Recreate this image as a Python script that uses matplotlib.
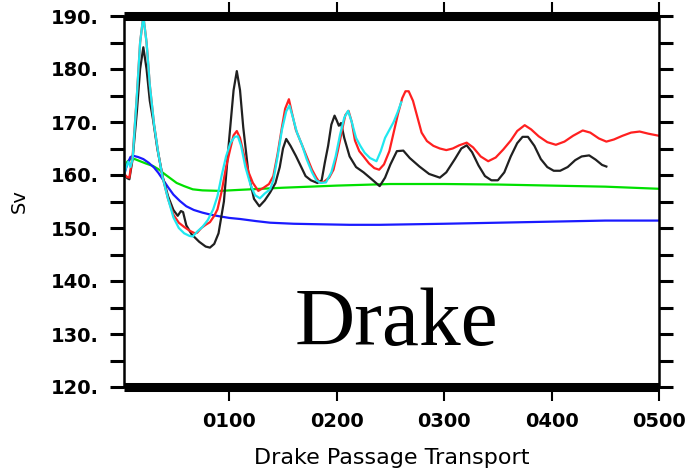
import matplotlib
matplotlib.use('Agg')
import matplotlib.pyplot as plt
from matplotlib.ticker import MultipleLocator

# Black run
black_x = [2, 5, 7, 10, 14, 17, 20, 23, 26, 29, 33, 38, 43, 48, 52, 55, 57, 60, 65, 72, 78, 82,
           86, 90, 95, 100, 104, 107, 110, 113, 118, 123, 128, 133, 138, 143, 147, 150, 153, 157,
           162, 167, 171, 176, 182, 186, 189, 192, 195, 198, 200, 202, 204, 207, 212, 218, 225,
           232, 240, 245, 250, 256, 262, 268, 277, 286, 296, 302, 310, 316, 321, 326, 332, 338,
           344, 350, 356, 362, 368, 373, 378, 384, 390, 396, 402, 408, 415, 422, 428, 435, 441,
           447, 451]
black_y = [160.2, 159.4, 159.2, 163, 172, 180, 184.1, 180, 174, 170.5, 165, 159.7, 156, 153.4,
           152.3, 153.2, 153, 150.5, 148.8, 147.4, 146.5, 146.3, 147, 149, 155, 167, 176, 179.6,
           176, 169, 160, 155.5, 154.1, 155.2, 156.7, 158.5, 161.5, 165, 166.8, 165.5, 163.6,
           161.5, 159.8, 159, 158.5, 159, 162.4, 165.5, 169.5, 171.2, 170.3, 169.3, 169.8, 167,
           163.5, 161.5, 160.5, 159.3, 157.9, 159.5, 162, 164.5, 164.6, 163.2, 161.6, 160.2,
           159.5, 160.5, 163, 165, 165.6, 164.3, 161.8, 159.8, 159, 159, 160.5, 163.5, 166,
           167.2, 167.2, 165.5, 163, 161.5, 160.8, 160.8, 161.5, 162.8, 163.5, 163.7, 162.9,
           161.9, 161.6]

# Red run
red_x = [2, 5, 7, 10, 14, 17, 20, 23, 26, 30, 34, 38, 43, 48, 53, 58, 63, 68, 70, 74, 78, 82,
         86, 89, 93, 97, 101, 104, 107, 110, 114, 118, 122, 127, 132, 137, 141, 145, 149, 152,
         155.5, 158, 162, 167, 172, 177, 181, 184, 188, 193, 197, 201, 205, 208, 211, 214, 217,
         221, 225, 230, 235, 239.5, 244, 249, 253, 257, 261, 264, 267, 271, 275, 279, 284, 290,
         296, 302, 308, 314, 321, 327, 334, 341, 348, 355, 362, 368, 375, 381, 388, 396, 404,
         412, 420, 429, 436, 444, 451, 458, 466, 474, 482, 490, 500]
red_y = [160.2, 159.6, 159.5, 163.5, 175, 185, 190, 185, 177, 169.5, 164, 159.5, 155.5, 152.5,
         151, 150.2, 149.5, 149, 149.1, 150, 150.6, 151.1, 152.3, 153.5, 157, 161.5, 165, 167.5,
         168.3, 167, 163.5, 160.5, 158.5, 157, 157.6, 158.3, 159.8, 164, 169, 172.5, 174.3,
         172, 168.5, 166, 163.5, 161, 159.5, 158.6, 158.7, 159.5, 161, 164.5, 168.5, 171.3,
         172.1, 170, 166.5, 164.5, 163.5, 162.2, 161.3, 161, 162, 164.5, 168, 171.5, 174.5,
         175.8, 175.8, 174, 171, 168, 166.4, 165.5, 165, 164.7, 165, 165.6, 166.1, 165.2,
         163.5, 162.6, 163.3, 164.8, 166.5, 168.3, 169.4, 168.6, 167.3, 166.2, 165.7, 166.3,
         167.4, 168.4, 168, 166.9, 166.3, 166.7, 167.4, 168, 168.2, 167.8, 167.4]

# Cyan run
cyan_x = [2, 4, 6, 8, 10, 14, 17, 20, 23, 26, 30, 34, 38, 43, 48, 53, 58, 63, 66, 70, 75, 80,
          85, 89, 93, 97, 101, 105, 108, 111, 115, 120, 124, 128.5, 133, 138, 141, 145, 149,
          153, 156, 159, 163, 168, 172, 177, 181, 185, 190, 195, 199, 203, 207, 210.6, 214, 218,
          222, 226, 231, 237, 241, 245, 249, 253, 257, 260]
cyan_y = [160, 161.5, 162.5, 161.5, 163, 175, 185, 190, 185, 177, 169.5, 164, 159.5, 155.5, 152,
          150, 149, 148.5, 148.4, 149.3, 150.2, 151.5, 153.5, 156, 160, 163.5, 166, 167.2, 167.3,
          165.5, 161.5, 158, 156.2, 155.6, 156.5, 157.3, 159, 163.5, 168.5, 172, 173.1, 171, 168,
          165.5, 163, 160.5, 159, 158.5, 158.6, 160.5, 163.5, 167.5, 170.8, 172.1, 170, 167,
          165.5, 164.2, 163.2, 162.6, 164.5, 167, 168.5, 170, 172, 173.7]

# Green run
green_x = [2, 5, 8, 12, 17, 22, 29, 34, 39, 45, 51, 58, 66, 75, 91, 110, 130, 150, 175, 200,
           250, 300, 350, 400, 450, 500]
green_y = [160.5, 162.5, 163, 163, 162.6, 162.2, 161.7, 161.1, 160.3, 159.4, 158.5, 157.9, 157.3,
           157.1, 157, 157.2, 157.4, 157.6, 157.8, 158, 158.3, 158.3, 158.2, 158, 157.8, 157.4]

# Blue run
blue_x = [2, 5, 8, 11, 15, 20, 25, 30, 34, 38, 43, 48, 54, 60, 67, 75, 83, 91, 100, 110, 125,
          138, 160, 185, 212, 240, 270, 300, 350, 400, 450, 500]
blue_y = [160, 162, 163.4, 163.6, 163.4, 163, 162.3, 161.4, 160.4, 159.2, 157.7, 156.3, 155.1,
          154.1, 153.4, 152.9, 152.5, 152.2, 151.9, 151.7, 151.3, 151, 150.8, 150.7, 150.6,
          150.6, 150.7, 150.8, 151, 151.2, 151.4, 151.4]

xticks = [100, 200, 300, 400, 500]
xticklabels = ['0100', '0200', '0300', '0400', '0500']
yticks = [120, 130, 140, 150, 160, 170, 180, 190]
yticklabels = ['120.', '130.', '140.', '150.', '160.', '170.', '180.', '190.']

fig = plt.figure(figsize=(6.91, 4.74), dpi=100)
ax = fig.add_axes([124 / 691, 1 - 387 / 474, (659 - 124) / 691, (387 - 16) / 474])

ax.plot(green_x, green_y, color='#00e000', lw=1.6)
ax.plot(blue_x, blue_y, color='#1a1aff', lw=1.6)
ax.plot(black_x, black_y, color='#202020', lw=1.6)
ax.plot(red_x, red_y, color='#ff2020', lw=1.6)
ax.plot(cyan_x, cyan_y, color='#20e8f0', lw=1.6)

ax.set_xlim(2, 500)
ax.set_ylim(120, 190)

ax.set_xticks(xticks)
ax.set_xticklabels(xticklabels, fontsize=14, fontweight='bold')
ax.set_yticks(yticks)
ax.set_yticklabels(yticklabels, fontsize=14, fontweight='bold')
ax.yaxis.set_minor_locator(MultipleLocator(5))

ax.tick_params(axis='x', which='both', direction='out', length=10, width=1.5,
               top=True, bottom=True, pad=8)
ax.tick_params(axis='y', which='both', direction='out', length=10, width=2.2,
               left=True, right=True, pad=8)

for side in ['top', 'bottom']:
    ax.spines[side].set_linewidth(6.5)
    ax.spines[side].set_capstyle('butt')
for side in ['left', 'right']:
    ax.spines[side].set_linewidth(1.8)

ax.set_xlabel('Drake Passage Transport', fontsize=16, labelpad=12)
ax.set_ylabel('Sv', fontsize=14, labelpad=16)

fig.text(295 / 691, 1 - 345 / 474, 'Drake', fontsize=60, family='Liberation Serif',
         ha='left', va='baseline')

fig.savefig('out.png', dpi=100)
